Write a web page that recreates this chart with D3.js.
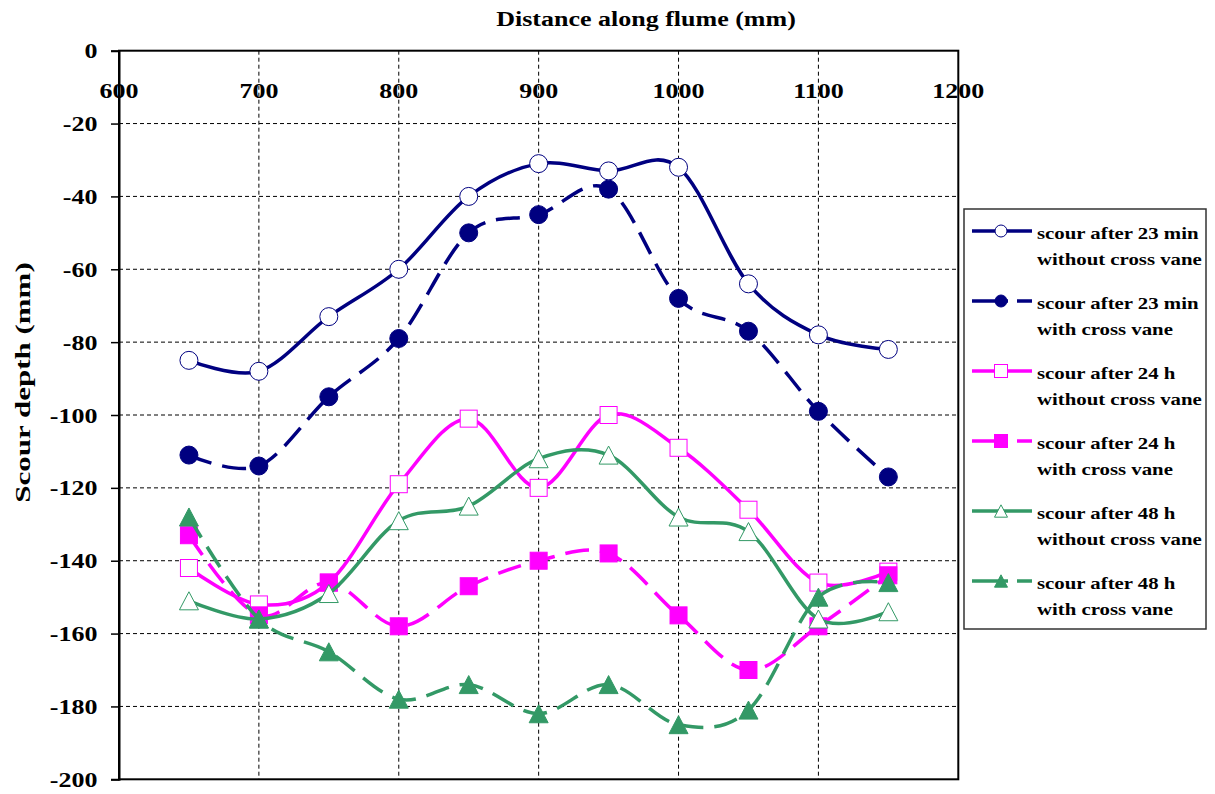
<!DOCTYPE html>
<html>
<head>
<meta charset="utf-8">
<script src="https://cdn.jsdelivr.net/npm/d3@7"></script>
<style>
  html, body { margin: 0; padding: 0; background: #fff; }
  svg { display: block; }
  text { font-family: "Liberation Serif", "Times New Roman", serif; font-weight: bold; fill: #000; }
</style>
</head>
<body>
<div id="chart"></div>
<script>
// ---------------- data ----------------
const distances = [650, 700, 750, 800, 850, 900, 950, 1000, 1050, 1100, 1150];
const scour23minNoVane = [-85, -88, -73, -60, -40, -31, -33, -32, -64, -78, -82];
const scour23minVane   = [-111, -114, -95, -79, -50, -45, -38, -68, -77, -99, -117];
const scour24hNoVane   = [-142, -152, -146, -119, -101, -120, -100, -109, -126, -146, -143];
const scour24hVane     = [-133, -155, -146, -158, -147, -140, -138, -155, -170, -158, -144];
const scour48hNoVane   = [-151, -156, -149, -129, -125, -112, -111, -128, -132, -156, -154];
const scour48hVane     = [-128, -156, -165, -178, -174, -182, -174, -185, -181, -150, -146];
const seriesNames = [
  ["scour after 23 min", "without cross vane"],
  ["scour after 23 min", "with cross vane"],
  ["scour after 24 h", "without cross vane"],
  ["scour after 24 h", "with cross vane"],
  ["scour after 48 h", "without cross vane"],
  ["scour after 48 h", "with cross vane"]
];
const xTicks = [600, 700, 800, 900, 1000, 1100, 1200];
const yTicks = [0, -20, -40, -60, -80, -100, -120, -140, -160, -180, -200];
const xTitle = "Distance along flume (mm)";
const yTitle = "Scour depth (mm)";

// ---------------- styles ----------------
const NAVY = "#000080", MAG = "#FF00FF", GREEN = "#339966";
const seriesData = [scour23minNoVane, scour23minVane, scour24hNoVane, scour24hVane, scour48hNoVane, scour48hVane];
const styles = [
  { color: NAVY,  shape: "circle",   filled: false, dashed: false },
  { color: NAVY,  shape: "circle",   filled: true,  dashed: true },
  { color: MAG,   shape: "square",   filled: false, dashed: false },
  { color: MAG,   shape: "square",   filled: true,  dashed: true },
  { color: GREEN, shape: "triangle", filled: false, dashed: false },
  { color: GREEN, shape: "triangle", filled: true,  dashed: true }
];

const W = 1215, H = 794;
const svg = d3.select("#chart").append("svg").attr("width", W).attr("height", H);

const pLeft = 119, pRight = 958.3, pTop = 50.7, pBottom = 779.3;
const x = d3.scaleLinear().domain([600, 1200]).range([pLeft, pRight]);
const y = d3.scaleLinear().domain([0, -200]).range([pTop, pBottom]);
const SX = 1.3;

function stext(g, str, tx, ty, size, anchor, sx) {
  return g.append("text")
    .attr("transform", `translate(${tx},${ty}) scale(${sx},1)`)
    .attr("text-anchor", anchor)
    .style("font-size", size + "px")
    .text(str);
}

// gridlines
const grid = svg.append("g");
grid.selectAll("line.v").data(xTicks.filter(d => d > 600 && d < 1200)).enter().append("line")
  .attr("x1", d => x(d)).attr("x2", d => x(d)).attr("y1", pTop).attr("y2", pBottom)
  .attr("stroke", "#000").attr("stroke-width", 1).attr("stroke-dasharray", "4,3");
grid.selectAll("line.h").data(yTicks.filter(d => d < 0 && d > -200)).enter().append("line")
  .attr("x1", pLeft).attr("x2", pRight).attr("y1", d => y(d)).attr("y2", d => y(d))
  .attr("stroke", "#000").attr("stroke-width", 1).attr("stroke-dasharray", "4,3");

// plot frame
svg.append("rect").attr("x", pLeft).attr("y", pTop).attr("width", pRight - pLeft).attr("height", pBottom - pTop)
  .attr("fill", "none").attr("stroke", "#000").attr("stroke-width", 2);

// y axis ticks via d3 axis
const yAxis = svg.append("g").attr("transform", `translate(${pLeft},0)`)
  .call(d3.axisLeft(y).tickValues(yTicks).tickSize(8).tickFormat(""));
yAxis.select(".domain").attr("stroke", "#000").attr("stroke-width", 2);
yAxis.selectAll(".tick line").attr("stroke", "#000").attr("stroke-width", 1.5);

// y tick labels
const ylab = svg.append("g");
yTicks.forEach(t => stext(ylab, String(t), 97.5, y(t) + 7.5, 20, "end", SX));
// x tick labels
const xlab = svg.append("g");
xTicks.forEach(t => stext(xlab, String(t), x(t), 98, 20, "middle", SX));

// titles
stext(svg, xTitle, 646, 26, 20, "middle", SX);
svg.append("text")
  .attr("transform", `translate(30,382.5) rotate(-90) scale(1.55,1)`)
  .attr("text-anchor", "middle").style("font-size", "20px").text(yTitle);

// symbols
function drawMarker(g, shape, cx, cy, size, st) {
  const fill = st.filled ? st.color : "#fff";
  if (shape === "circle") {
    g.append("circle").attr("cx", cx).attr("cy", cy).attr("r", size / 2)
      .attr("fill", fill).attr("stroke", st.color).attr("stroke-width", 1);
  } else if (shape === "square") {
    g.append("rect").attr("x", cx - size / 2).attr("y", cy - size / 2).attr("width", size).attr("height", size)
      .attr("fill", fill).attr("stroke", st.color).attr("stroke-width", 1);
  } else {
    const w = size, h = size * 0.95;
    g.append("path").attr("d", `M${cx},${cy - h / 2}L${cx + w / 2},${cy + h / 2}L${cx - w / 2},${cy + h / 2}Z`)
      .attr("fill", fill).attr("stroke", st.color).attr("stroke-width", 1);
  }
}

const line = d3.line().x(d => x(d[0])).y(d => y(d[1])).curve(d3.curveCatmullRom.alpha(0));

seriesData.forEach((vals, i) => {
  const st = styles[i];
  const pts = distances.map((d, j) => [d, vals[j]]);
  const g = svg.append("g");
  g.append("path").datum(pts).attr("d", line)
    .attr("fill", "none").attr("stroke", st.color).attr("stroke-width", 3.5)
    .attr("stroke-dasharray", st.dashed ? "24,11" : null);
  const msize = st.shape === "circle" ? 18 : (st.shape === "square" ? 17 : 19);
  pts.forEach(p => drawMarker(g, st.shape, x(p[0]), y(p[1]), msize, st));
});

// legend
const lg = svg.append("g");
lg.append("rect").attr("x", 964).attr("y", 209).attr("width", 242).attr("height", 420)
  .attr("fill", "#fff").attr("stroke", "#333").attr("stroke-width", 1.5);
seriesNames.forEach((nm, i) => {
  const st = styles[i];
  const cy = 231 + i * 70;
  lg.append("line").attr("x1", 972).attr("x2", 1032).attr("y1", cy).attr("y2", cy)
    .attr("stroke", st.color).attr("stroke-width", 3.5)
    .attr("stroke-dasharray", st.dashed ? "36,9,15" : null);
  const ms = st.shape === "circle" ? 12 : 13;
  drawMarker(lg, st.shape, 1001, cy, ms, st);
  stext(lg, nm[0], 1037, cy + 8, 16, "start", SX);
  stext(lg, nm[1], 1037, cy + 34, 16, "start", SX);
});
</script>
</body>
</html>
